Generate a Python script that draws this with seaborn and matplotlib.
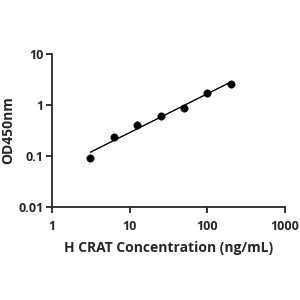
import numpy as np
import matplotlib
matplotlib.use("Agg")
import matplotlib.pyplot as plt
import matplotlib.ticker as mticker
import seaborn as sns

# Standard curve data
conc = [3.125, 6.25, 12.5, 25, 50, 100, 200]
od = [0.093, 0.233, 0.405, 0.61, 0.89, 1.74, 2.58]
x_ticks = [1, 10, 100, 1000]
y_ticks = [0.01, 0.1, 1, 10]

sns.set_style("ticks")
plt.rcParams['font.family'] = ['Open Sans', 'DejaVu Sans']
plt.rcParams['font.weight'] = 'bold'

fig = plt.figure(figsize=(3, 3), dpi=100)
ax = fig.add_axes([0.173, 0.31, 0.777, 0.51])

# Log-log linear fit line through the points
coef = np.polyfit(np.log10(conc), np.log10(od), 1)
fit_x = np.array([conc[0], conc[-1]])
fit_y = 10 ** np.polyval(coef, np.log10(fit_x))
ax.plot(fit_x, fit_y, color='black', lw=1)

sns.scatterplot(x=conc, y=od, ax=ax, color='black', s=28, edgecolor='black', zorder=3)

ax.set_xscale('log')
ax.set_yscale('log')
ax.set_xlim(1, 1000)
ax.set_ylim(0.01, 10)
ax.set_xticks(x_ticks)
ax.set_yticks(y_ticks)
ax.xaxis.set_major_formatter(mticker.FuncFormatter(lambda v, p: f'{v:g}'))
ax.yaxis.set_major_formatter(mticker.FuncFormatter(lambda v, p: f'{v:g}'))
ax.xaxis.set_minor_locator(mticker.NullLocator())
ax.yaxis.set_minor_locator(mticker.NullLocator())

ax.tick_params(axis='both', labelsize=9, width=1.3, length=4, direction='out', pad=2)
ax.tick_params(axis='x', pad=5)
for lab in ax.get_xticklabels() + ax.get_yticklabels():
    lab.set_fontweight('bold')
for side in ['left', 'bottom']:
    ax.spines[side].set_linewidth(1.3)
sns.despine(ax=ax)

ax.set_xlabel('H CRAT Concentration (ng/mL)', fontsize=10, fontweight='bold', labelpad=6)
ax.set_ylabel('OD450nm', fontsize=10, fontweight='bold', labelpad=2)

fig.savefig('out.png', dpi=100)
